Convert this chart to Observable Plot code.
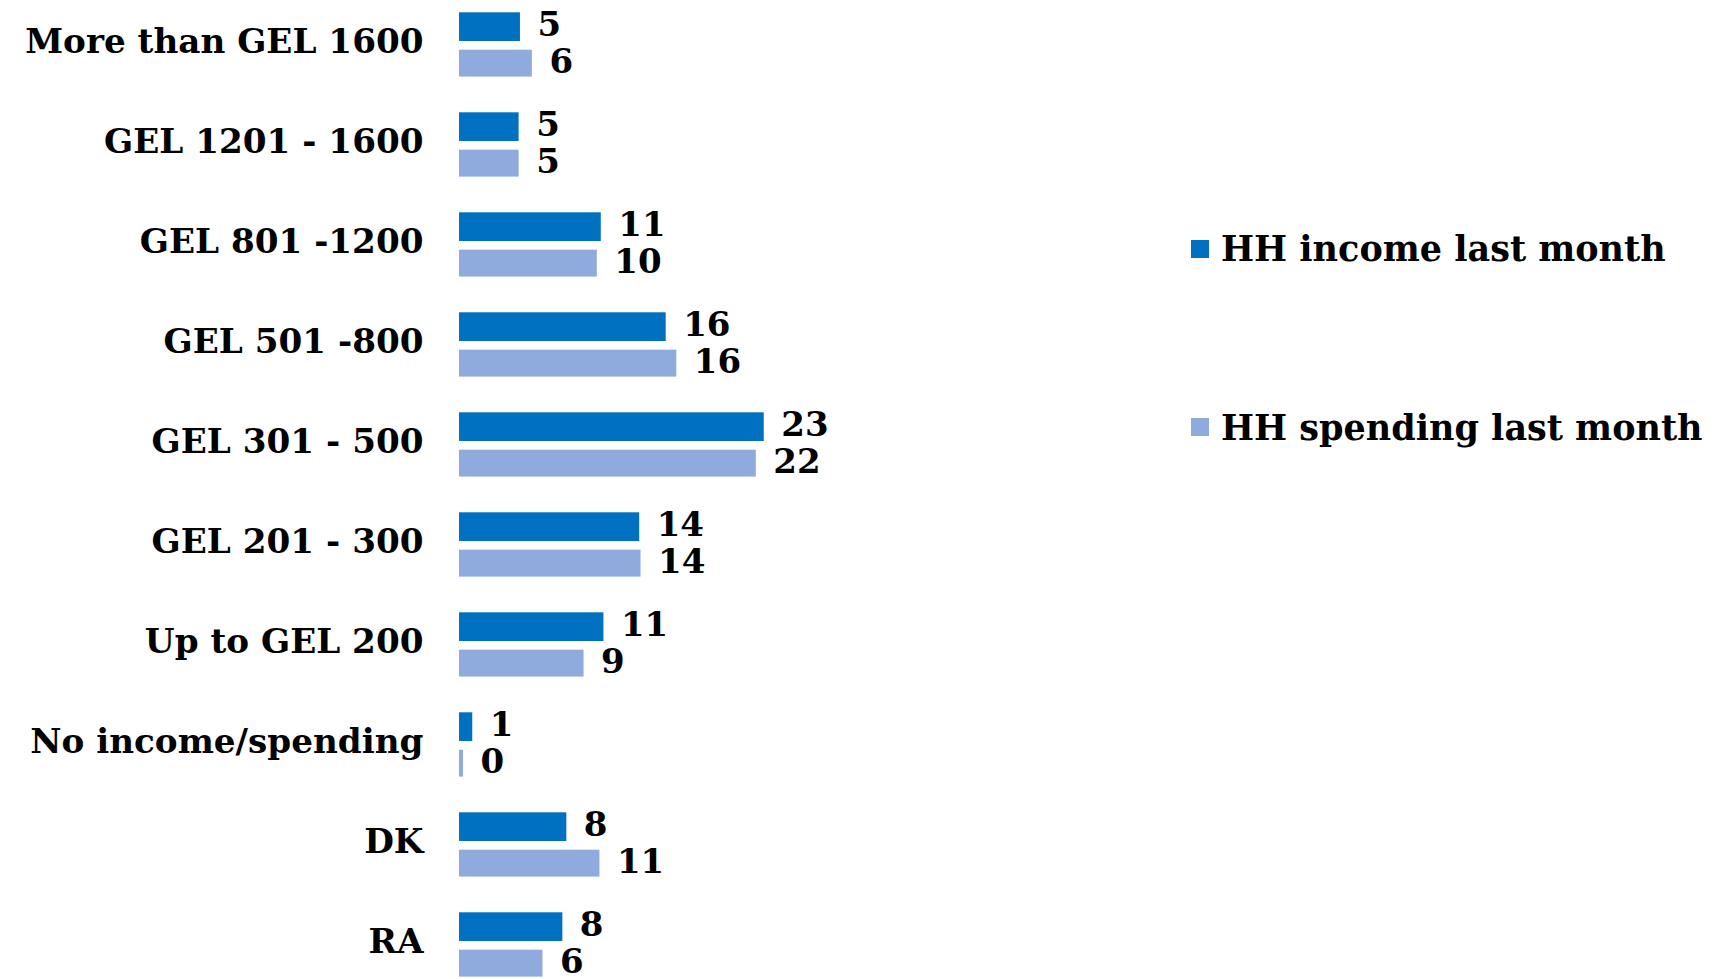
<!DOCTYPE html>
<html>
<head>
<meta charset="utf-8">
<script src="https://cdn.jsdelivr.net/npm/d3@7"></script>
<script src="https://cdn.jsdelivr.net/npm/@observablehq/plot@0.6"></script>
<style>
  html, body { margin: 0; padding: 0; background: #fff; }
  #wrap { position: relative; width: 1717px; height: 979px; overflow: hidden; }
  #legend { position: absolute; left: 1191px; top: 0; font-family: "DejaVu Serif", serif; font-weight: bold; color: #000; }
  .item { position: absolute; left: 0; white-space: nowrap; display: flex; align-items: center; }
  .sw { width: 18px; height: 18px; margin-right: 12px; }
</style>
</head>
<body>
<div id="wrap"><div id="legend"></div></div>
<script>
const categories = [
  "More than GEL 1600",
  "GEL 1201 - 1600",
  "GEL 801 -1200",
  "GEL 501 -800",
  "GEL 301 - 500",
  "GEL 201 - 300",
  "Up to GEL 200",
  "No income/spending",
  "DK",
  "RA"
];
const incomeValues   = [4.6, 4.5, 10.7, 15.6, 23.0, 13.6, 10.9, 1.0, 8.1, 7.8];
const spendingValues = [5.5, 4.5, 10.4, 16.4, 22.4, 13.7, 9.4, 0.3, 10.6, 6.3];
const seriesNames = ["HH income last month", "HH spending last month"];
const seriesColors = ["#0070C0", "#8FAADC"];

const rows = categories.map((c, i) => ({category: c, income: incomeValues[i], spending: spendingValues[i]}));

const font = "DejaVu Serif";

const chart = Plot.plot({
  width: 1717,
  height: 979,
  marginLeft: 459,
  marginRight: 0,
  marginTop: 0,
  marginBottom: 0,
  style: {fontFamily: font, fontWeight: "bold", color: "#000", background: "transparent", overflow: "visible"},
  x: {domain: [0, 23], range: [459, 763.75], axis: null},
  y: {domain: categories, range: [-10, 997], padding: 0, axis: null},
  marks: [
    Plot.barX(rows, {x: "income", y: "category", fill: seriesColors[0], insetTop: 18.3, insetBottom: 53}),
    Plot.barX(rows, {x: "spending", y: "category", fill: seriesColors[1], insetTop: 55.7, insetBottom: 17.4}),
    Plot.text(rows, {x: "income", y: "category", text: d => String(Math.round(d.income)), dx: 17, dy: -19, textAnchor: "start", fontSize: 34, fontWeight: "bold", fill: "#000"}),
    Plot.text(rows, {x: "spending", y: "category", text: d => String(Math.round(d.spending)), dx: 17, dy: 18, textAnchor: "start", fontSize: 34, fontWeight: "bold", fill: "#000"}),
    Plot.axisY({tickSize: 0, tickPadding: 36, dy: -2, fontSize: 34.2, fontWeight: "bold", fill: "#000", label: null})
  ]
});
document.getElementById("wrap").prepend(chart);

const legend = document.getElementById("legend");
const legendTops = [248.5, 427];
seriesNames.forEach((name, i) => {
  const it = document.createElement("div");
  it.className = "item";
  it.style.top = (legendTops[i] - 25) + "px";
  it.style.height = "50px";
  it.style.fontSize = "35px";
  const sw = document.createElement("span");
  sw.className = "sw";
  sw.style.background = seriesColors[i];
  const t = document.createElement("span");
  t.textContent = name;
  it.append(sw, t);
  legend.append(it);
});
</script>
</body>
</html>
